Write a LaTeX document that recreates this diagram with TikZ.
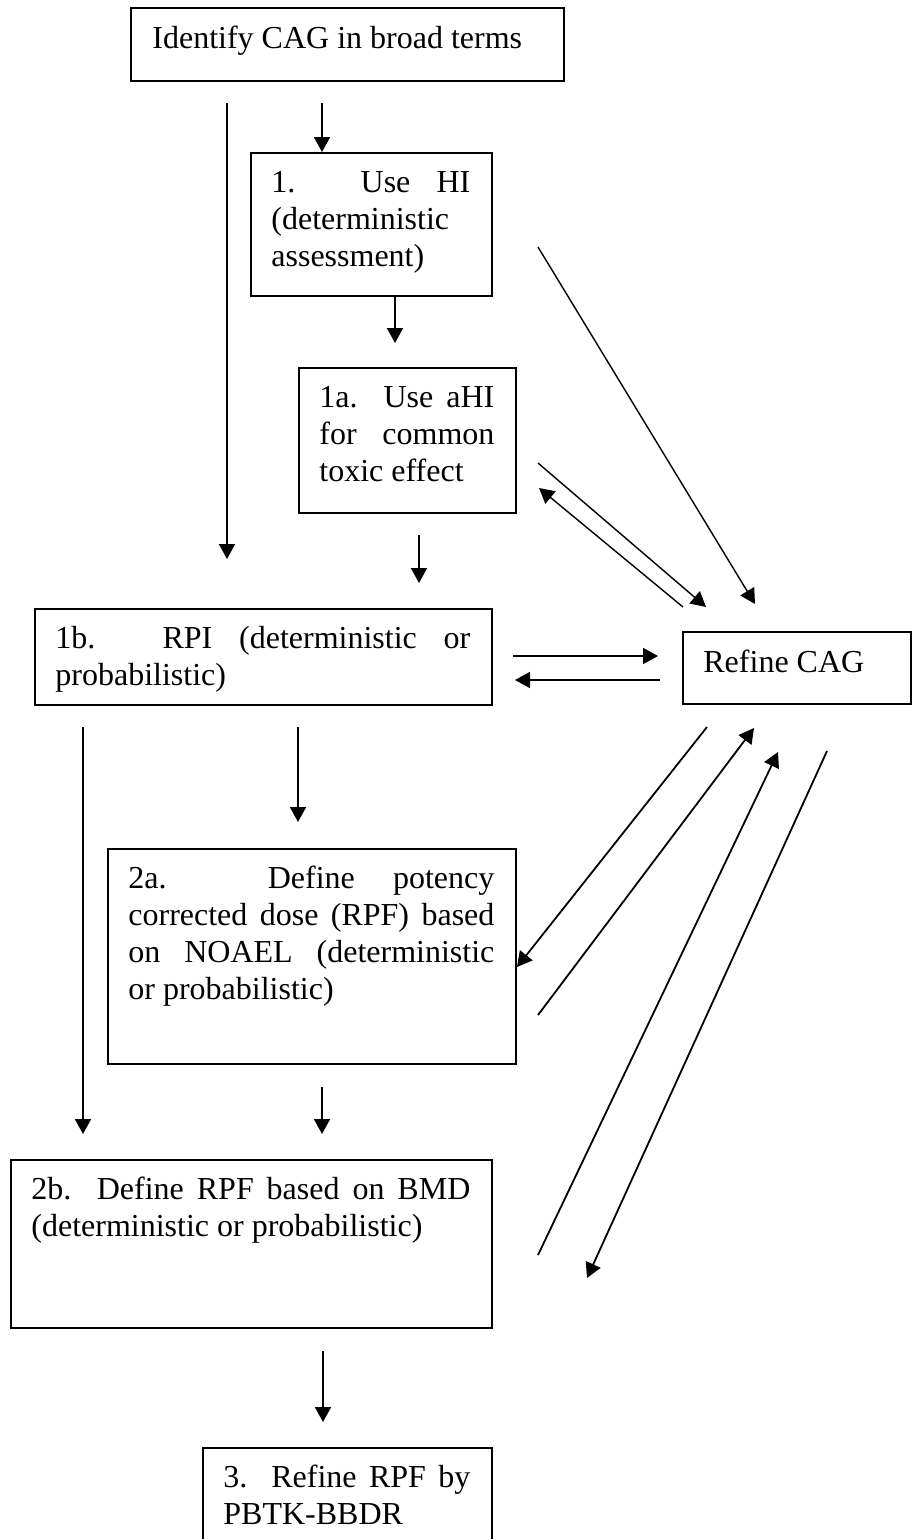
\documentclass[tikz,border=0pt]{standalone}
\usepackage{fontspec}
\setmainfont{Liberation Serif}
\usetikzlibrary{arrows.meta}
\tolerance=10000
\hyphenpenalty=10000
\hbadness=10000
\tikzset{
  boxshape/.style={draw, line width=1pt, anchor=north west, inner sep=0pt, rectangle},
  boxtext/.style={anchor=base west, inner sep=0pt, align=justify,
    font=\fontsize{16pt}{18.5pt}\selectfont},
  flow/.style={line width=0.9pt, -{Triangle[length=7.5pt,width=8pt]}},
  thinflow/.style={line width=0.7pt, -{Triangle[length=7.5pt,width=8pt]}}
}
\begin{document}
\begin{tikzpicture}[x=0.5pt,y=-0.5pt]
\useasboundingbox (0,0) rectangle (912,1539);
\clip (0,0) rectangle (912,1539);

% boxes
\node[boxshape, minimum width=216.5pt, minimum height=36.5pt] (top) at (130,7) {};
\node[boxtext] (toptxt) at (152,48) {Identify CAG in broad terms};

\node[boxshape, minimum width=120.5pt, minimum height=71.5pt] (b1) at (250,152) {};
\node[boxtext, text width=99.5pt] (b1txt) at (271,192) {1. Use HI\linebreak (deterministic\linebreak assessment)};

\node[boxshape, minimum width=108.5pt, minimum height=72.5pt] (b1a) at (298,367) {};
\node[boxtext, text width=87.5pt] (b1atxt) at (319,407) {1a. Use aHI\linebreak for common\linebreak toxic effect};

\node[boxshape, minimum width=228.5pt, minimum height=48pt] (b1b) at (34,608) {};
\node[boxtext, text width=207.5pt] (b1btxt) at (55,648) {1b. RPI (deterministic or\linebreak probabilistic)};

\node[boxshape, minimum width=114pt, minimum height=36pt] (ref) at (682,631) {};
\node[boxtext] (reftxt) at (703,672) {Refine CAG};

\node[boxshape, minimum width=204pt, minimum height=107.5pt] (b2a) at (107,848) {};
\node[boxtext, text width=183pt] (b2atxt) at (128,888) {2a. Define potency\linebreak corrected dose (RPF) based\linebreak on NOAEL (deterministic\linebreak or probabilistic)};

\node[boxshape, minimum width=240.5pt, minimum height=84pt] (b2b) at (10,1159) {};
\node[boxtext, text width=219.5pt] (b2btxt) at (31,1199) {2b. Define RPF based on BMD\linebreak (deterministic or probabilistic)};

\node[boxshape, minimum width=144.5pt, minimum height=48pt] (b3) at (202,1447) {};
\node[boxtext, text width=123.5pt] (b3txt) at (223,1487) {3. Refine RPF by\linebreak PBTK-BBDR};

% connector end points
\coordinate (a1s) at (227,103);  \coordinate (a1e) at (227,559);
\coordinate (a2s) at (322,103);  \coordinate (a2e) at (322,152);
\coordinate (a3s) at (395,295);  \coordinate (a3e) at (395,343);
\coordinate (a4s) at (419,535);  \coordinate (a4e) at (419,583);
\coordinate (a5s) at (83,727);   \coordinate (a5e) at (83,1134);
\coordinate (a6s) at (298,727);  \coordinate (a6e) at (298,822);
\coordinate (a7s) at (322,1087); \coordinate (a7e) at (322,1134);
\coordinate (a8s) at (323,1351); \coordinate (a8e) at (323,1422);
\coordinate (h1s) at (513,656);  \coordinate (h1e) at (658,656);
\coordinate (h2s) at (660,680);  \coordinate (h2e) at (515,680);
\coordinate (d1s) at (538,247);  \coordinate (d1e) at (755,604);
\coordinate (d2s) at (538,463);  \coordinate (d2e) at (706,607);
\coordinate (d3s) at (683,607);  \coordinate (d3e) at (539,488);
\coordinate (d4s) at (707,727);  \coordinate (d4e) at (517,967);
\coordinate (d5s) at (538,1015); \coordinate (d5e) at (754,728);
\coordinate (d6s) at (538,1255); \coordinate (d6e) at (778,752);
\coordinate (d7s) at (827,751);  \coordinate (d7e) at (587,1278);

% connectors
\draw[flow] (a1s) -- (a1e);
\draw[flow] (a2s) -- (a2e);
\draw[flow] (a3s) -- (a3e);
\draw[flow] (a4s) -- (a4e);
\draw[flow] (a5s) -- (a5e);
\draw[flow] (a6s) -- (a6e);
\draw[flow] (a7s) -- (a7e);
\draw[flow] (a8s) -- (a8e);
\draw[flow] (h1s) -- (h1e);
\draw[flow] (h2s) -- (h2e);
\draw[thinflow] (d1s) -- (d1e);
\draw[thinflow] (d2s) -- (d2e);
\draw[thinflow] (d3s) -- (d3e);
\draw[flow] (d4s) -- (d4e);
\draw[flow] (d5s) -- (d5e);
\draw[flow] (d6s) -- (d6e);
\draw[flow] (d7s) -- (d7e);
\end{tikzpicture}
\end{document}
